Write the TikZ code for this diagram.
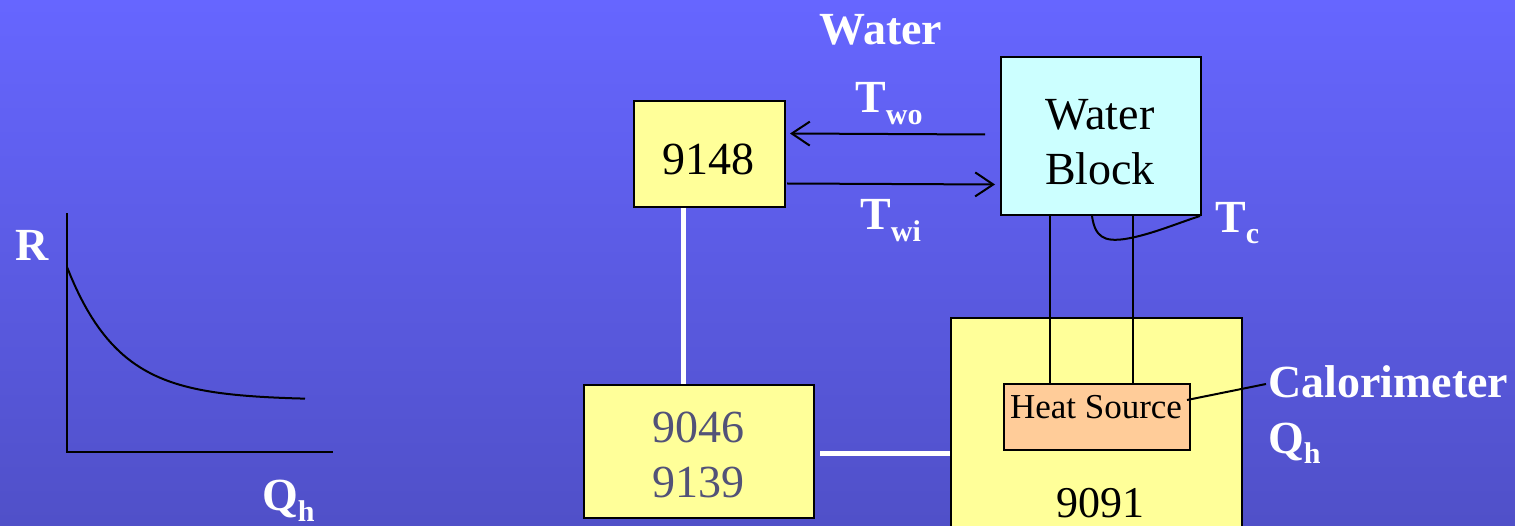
\documentclass[tikz,border=0pt]{standalone}
\usepackage{fontspec}
\setmainfont{Liberation Serif}
\usetikzlibrary{arrows.meta,calc}

\definecolor{bgtop}{RGB}{102,102,255}
\definecolor{bgbot}{RGB}{80,80,200}
\definecolor{paleyellow}{RGB}{255,255,153}
\definecolor{palecyan}{RGB}{204,255,255}
\definecolor{peach}{RGB}{255,204,153}
\definecolor{slatetext}{RGB}{82,82,120}

% label with a lowered subscript
\newcommand{\withsub}[3]{#1\raisebox{-#3}{\fontsize{30}{30}\selectfont #2}}

\begin{document}
\begin{tikzpicture}[x=1pt,y=-1pt,
  box/.style={draw=black,line width=2pt,inner sep=0pt,anchor=north west},
  boxtext/.style={anchor=base,inner sep=0pt,font=\fontsize{46}{46}\selectfont},
  lbl/.style={anchor=base west,inner sep=0pt,text=white,font=\fontsize{46}{46}\selectfont\bfseries},
  wire/.style={draw=black,line width=2pt},
  link/.style={draw=white,line width=5pt},
  flow/.style={draw=black,line width=2pt,-{Straight Barb[length=18pt,width=24pt,line width=2pt]}},
]
% background
\shade[top color=bgtop,bottom color=bgbot] (0,0) rectangle (1515,526);
\useasboundingbox (0,0) rectangle (1515,526);
\clip (0,0) rectangle (1515,526);

% boxes
\node[box,fill=paleyellow,minimum width=151pt,minimum height=106pt] (b9148) at (633,100) {};
\node[box,fill=palecyan,minimum width=200pt,minimum height=158pt] (wb) at (1000,56) {};
\node[box,fill=paleyellow,minimum width=230pt,minimum height=133pt] (b9046) at (583,384) {};
\node[box,fill=paleyellow,minimum width=291pt,minimum height=240pt] (b9091) at (950,317) {};
\node[box,fill=peach,minimum width=186pt,minimum height=66pt] (hs) at (1003,383) {};

% box texts
\node[boxtext] (t9148) at (708,175) {9148};
\node[boxtext] (twater) at (1100,130) {Water};
\node[boxtext] (tblock) at (1100,185) {Block};
\node[boxtext,text=slatetext] (t9046) at (698,442) {9046};
\node[boxtext,text=slatetext] (t9139) at (698,497) {9139};
\node[boxtext,font=\fontsize{44}{44}\selectfont] (t9091) at (1100,517) {9091};
\node[boxtext,font=\fontsize{35}{35}\selectfont] (ths) at (1096,418) {Heat Source};

% white links
\draw[link] ([xshift=50pt]b9148.south west) -- ([xshift=100pt]b9046.north west);
\draw[link] ($(b9046.east)+(5,1.5)$) -- ($(b9046.east -| b9091.west)+(0,1.5)$);

% water flow
\draw[flow] ($(wb.west)+(-15,-1.5)$) -- ($(b9148.east)+(4,-20.5)$);
\draw[flow] ($(b9148.east)+(1,29.5)$) -- ($(wb.west)+(-5,48.5)$);

% leads between water block and heat source
\draw[wire] ($(wb.south west)+(50,0)$) -- ($(hs.north west)+(47,0)$);
\draw[wire] ($(wb.south west)+(133,0)$) -- ($(hs.north west)+(130,0)$);
\draw[wire] ($(wb.south west)+(92,0)$) .. controls (1095,237) and (1104,242) .. (1125,239)
            .. controls (1150,235) and (1178,223) .. ($(wb.south east)+(-2,0)$);

% labels
\node[lbl,anchor=base] (lwater) at (881,45) {Water};
\node[lbl] (ltwo) at (855,113) {\withsub{T}{wo}{12pt}};
\node[lbl] (ltwi) at (860,230) {\withsub{T}{wi}{12pt}};
\node[lbl] (ltc) at (1215,233) {\withsub{T}{c}{11pt}};
\node[lbl] (lcal) at (1268,397) {Calorimeter};
\node[lbl] (lqh) at (1268,453) {\withsub{Q}{h}{10pt}};
\node[lbl] (lr) at (15,261) {R};
\node[lbl] (lqx) at (262,510) {\withsub{Q}{h}{11pt}};

% calorimeter pointer
\draw[wire] ($(hs.east)+(-4,-17)$) -- ($(lcal.base west)+(-2,-13)$);

% R versus Q_h sketch
\draw[wire,line cap=rect] (67,214) -- (67,452) -- (332,452);
\draw[wire] plot[domain=67:305,samples=60] (\x,{400-133*exp(-(\x-67)/52)});
\end{tikzpicture}
\end{document}
